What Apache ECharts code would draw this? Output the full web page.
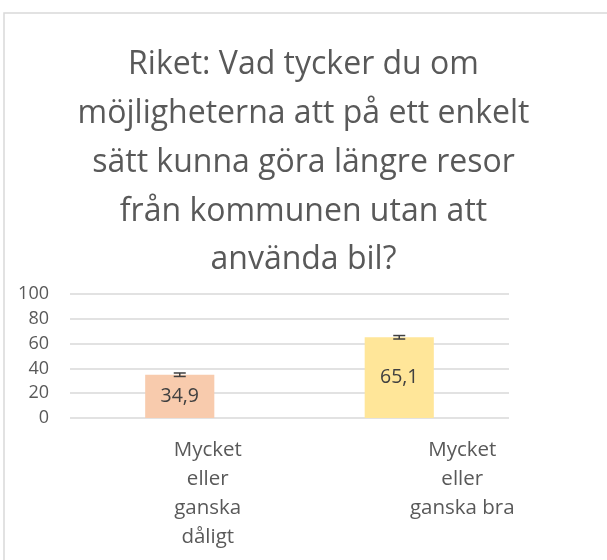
<!DOCTYPE html>
<html>
<head>
    <meta charset="utf-8">
    <title>Riket</title>
    <script src="https://cdn.jsdelivr.net/npm/echarts@6/dist/echarts.min.js"></script>
</head>
<body style="margin:0">
    <div id="main" style="width:607px; height:560px"></div>
    <script type="text/javascript">
        var categories = ['Mycket\neller\nganska\ndåligt', 'Mycket\neller\nganska bra'];
        var values = [34.9, 65.1];
        var errors = [1.4, 1.4];
        var colors = ['#F8CBAD', '#FFE699'];
        var yTicks = [0, 20, 40, 60, 80, 100];

        var myChart = echarts.init(document.getElementById('main'));

        var option = {
            backgroundColor: '#ffffff',
            textStyle: { fontFamily: 'Open Sans' },
            title: {
                text: 'Riket: Vad tycker du om\nmöjligheterna att på ett enkelt\nsätt kunna göra längre resor\nfrån kommunen utan att\nanvända bil?',
                left: 'center',
                top: 36,
                textStyle: {
                    fontFamily: 'Open Sans',
                    fontWeight: 'normal',
                    fontSize: 32,
                    lineHeight: 48.7,
                    color: '#595959'
                }
            },
            graphic: [{
                type: 'rect',
                shape: { x: 4, y: 13, width: 700, height: 700 },
                style: { fill: 'none', stroke: '#d9d9d9', lineWidth: 1.5 },
                silent: true
            }],
            grid: { left: 70, right: 98, top: 294, bottom: 142 },
            xAxis: {
                type: 'category',
                data: categories,
                axisLine: { show: false },
                axisTick: { show: false },
                axisLabel: {
                    margin: 18,
                    formatter: function (value, idx) {
                        return value.split('\n').map(function (s) {
                            return '{c' + idx + '|' + s + '}';
                        }).join('\n');
                    },
                    rich: {
                        c0: { fontSize: 20.5, lineHeight: 29, color: '#595959', padding: [0, 0, 0, 56] },
                        c1: { fontSize: 20.5, lineHeight: 29, color: '#595959', padding: [0, 0, 0, 126] }
                    }
                }
            },
            yAxis: {
                type: 'value',
                min: yTicks[0],
                max: yTicks[yTicks.length - 1],
                interval: yTicks[1] - yTicks[0],
                axisLine: { show: false },
                axisTick: { show: false },
                axisLabel: { fontSize: 18, color: '#595959', margin: 21 },
                splitLine: { lineStyle: { color: '#d9d9d9', width: 1.5 } }
            },
            series: [
                {
                    type: 'bar',
                    barWidth: '31.5%',
                    data: values.map(function (v, i) {
                        return { value: v, itemStyle: { color: colors[i] } };
                    }),
                    label: {
                        show: true,
                        position: 'inside',
                        fontSize: 19.5,
                        color: '#404040',
                        formatter: function (p) {
                            return String(p.value).replace('.', ',');
                        }
                    }
                },
                {
                    type: 'custom',
                    data: values.map(function (v, i) { return [i, v - errors[i], v + errors[i]]; }),
                    z: 10,
                    renderItem: function (params, api) {
                        var lo = api.coord([api.value(0), api.value(1)]);
                        var hi = api.coord([api.value(0), api.value(2)]);
                        var hw = 6;
                        var st = { stroke: '#404040', lineWidth: 1.5 };
                        return {
                            type: 'group',
                            children: [
                                { type: 'line', shape: { x1: lo[0], y1: lo[1], x2: hi[0], y2: hi[1] }, style: st },
                                { type: 'line', shape: { x1: lo[0] - hw, y1: lo[1], x2: lo[0] + hw, y2: lo[1] }, style: st },
                                { type: 'line', shape: { x1: hi[0] - hw, y1: hi[1], x2: hi[0] + hw, y2: hi[1] }, style: st }
                            ]
                        };
                    }
                }
            ]
        };

        myChart.setOption(option);
    </script>
</body>
</html>
